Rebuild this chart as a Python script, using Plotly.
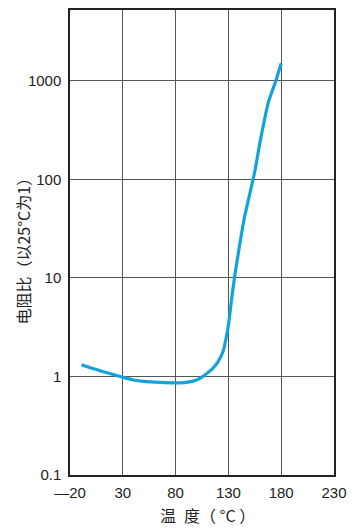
import plotly.graph_objects as go

# Resistance ratio (relative to 25 °C) versus temperature
temperature_c = [-9, 0, 10, 20, 30, 40, 50, 60, 70, 80, 90, 100, 106, 110, 115,
                 120, 125, 128, 130, 133, 136, 140, 145, 155, 160, 168, 175, 180]
resistance_ratio = [1.31, 1.22, 1.13, 1.05, 0.98, 0.92, 0.89, 0.875, 0.865, 0.86,
                    0.87, 0.92, 1.0, 1.08, 1.2, 1.4, 1.8, 2.5, 3.3, 6.0, 10.5,
                    19.5, 40.0, 120.0, 240.0, 610.0, 1000.0, 1500.0]

x_ticks = [-20, 30, 80, 130, 180, 230]
x_tick_labels = ["\u201420", "30", "80", "130", "180", "230"]
y_ticks = [0.1, 1, 10, 100, 1000]
y_tick_labels = ["0.1", "1", "10", "100", "1000"]

font_family = "Liberation Sans, Arial, Noto Sans CJK SC, sans-serif"
cjk_family = "Noto Sans CJK SC, Liberation Sans, sans-serif"

fig = go.Figure()
fig.add_trace(go.Scatter(
    x=temperature_c, y=resistance_ratio, mode="lines",
    line=dict(color="#12a2dc", width=3.2, shape="spline", smoothing=0.5),
    showlegend=False, hoverinfo="skip",
))

fig.update_layout(
    width=355, height=528,
    margin=dict(l=70, r=21, t=8, b=53),
    paper_bgcolor="white", plot_bgcolor="white",
    font=dict(family=font_family, size=15, color="#222222"),
    xaxis=dict(
        range=[-20, 230], tickmode="array", tickvals=x_ticks, ticktext=x_tick_labels,
        showgrid=True, gridcolor="#555555", gridwidth=1,
        showline=True, linecolor="#222222", linewidth=1.5, mirror=True,
        ticks="", zeroline=False, ticklabelstandoff=3,
    ),
    yaxis=dict(
        type="log", range=[-1, 3.717], tickmode="array",
        tickvals=y_ticks, ticktext=y_tick_labels,
        showgrid=True, gridcolor="#555555", gridwidth=1,
        showline=True, linecolor="#222222", linewidth=1.5, mirror=True,
        ticks="", zeroline=False, ticklabelstandoff=4,
    ),
    annotations=[
        dict(text="电阻比（以25°C为1）", xref="paper", yref="paper",
             x=-0.178, y=0.489, xanchor="center", yanchor="middle",
             textangle=-90, showarrow=False,
             font=dict(family=cjk_family, size=16, color="#222222")),
        dict(text="温\u2002度（ °C ）", xref="paper", yref="paper",
             x=(207 - 70) / 264, y=-0.087,
             xanchor="center", yanchor="middle", showarrow=False,
             font=dict(family=cjk_family, size=16, color="#222222")),
    ],
)

fig.write_html("out.html")
